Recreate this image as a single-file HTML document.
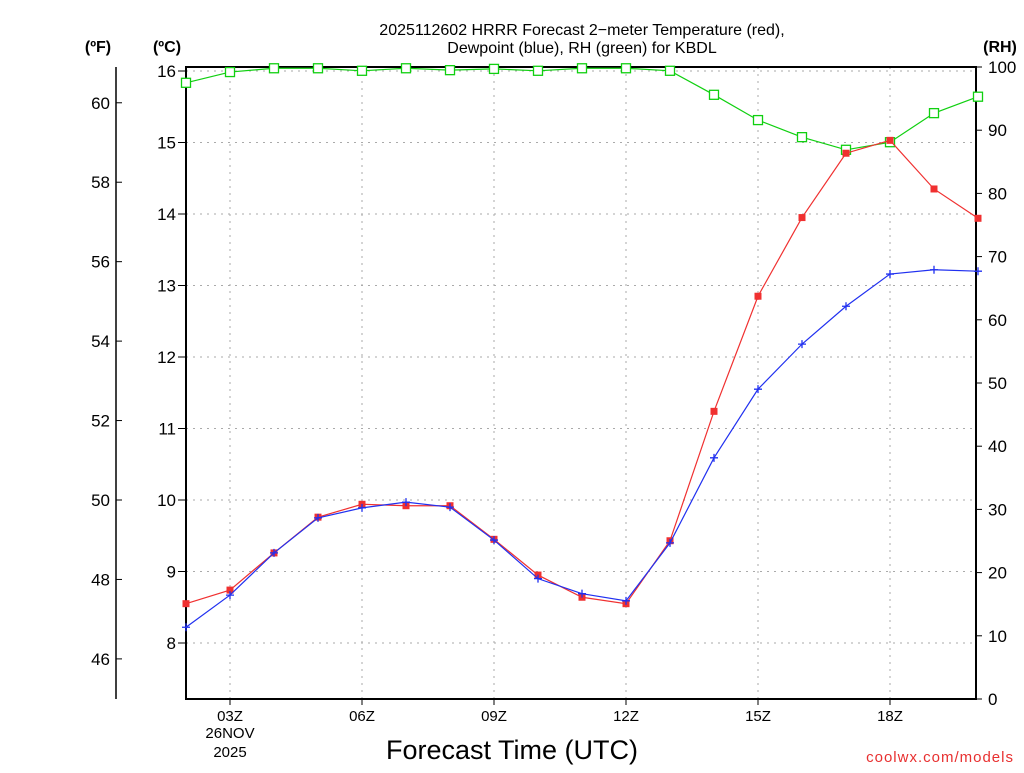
<!DOCTYPE html>
<html><head><meta charset="utf-8"><style>
body{margin:0;background:#fff;}
svg text{font-family:"Liberation Sans",sans-serif;}
</style></head><body>
<svg id="chart" width="1024" height="768" xmlns="http://www.w3.org/2000/svg">
<text x="582" y="35" text-anchor="middle" font-size="16">2025112602 HRRR Forecast 2−meter Temperature (red),</text>
<text x="582" y="53" text-anchor="middle" font-size="16">Dewpoint (blue), RH (green) for KBDL</text>
<text x="98" y="52" text-anchor="middle" font-size="16" font-weight="bold">(ºF)</text>
<text x="167" y="52" text-anchor="middle" font-size="16" font-weight="bold">(ºC)</text>
<text x="1000" y="52" text-anchor="middle" font-size="16" font-weight="bold">(RH)</text>
<text x="512" y="759" text-anchor="middle" font-size="27">Forecast Time (UTC)</text>
<text x="1014" y="762" text-anchor="end" font-size="15" fill="#e83030" letter-spacing="1">coolwx.com/models</text>
<g id="g"></g>
</svg>
<script>
const hours=[2,3,4,5,6,7,8,9,10,11,12,13,14,15,16,17,18,19,20];
const tempC=[8.55,8.74,9.26,9.76,9.94,9.92,9.92,9.45,8.95,8.64,8.55,9.43,11.24,12.85,13.95,14.85,15.03,14.35,13.94];
const dewC=[8.22,8.67,9.26,9.75,9.89,9.97,9.90,9.44,8.90,8.69,8.59,9.40,10.59,11.55,12.18,12.71,13.16,13.22,13.20];
const rh=[97.5,99.2,99.8,99.8,99.4,99.8,99.5,99.7,99.4,99.8,99.8,99.4,95.6,91.6,88.9,86.9,88.1,92.7,95.3];
const cTicks=[8,9,10,11,12,13,14,15,16];
const fTicks=[46,48,50,52,54,56,58,60];
const rhTicks=[0,10,20,30,40,50,60,70,80,90,100];
const xTicks=[3,6,9,12,15,18];
const xLabels=["03Z","06Z","09Z","12Z","15Z","18Z"];
const L=186,R=976,T=67,B=699;
const xS=h=>L+(h-2)*44;
const yC=c=>71+(16-c)*71.5;
const yF=f=>yC((f-32)/1.8);
const yR=r=>B-r*6.32;
const g=document.getElementById('g');
const NS='http://www.w3.org/2000/svg';
function mk(t,a){const e=document.createElementNS(NS,t);for(const k in a)e.setAttribute(k,a[k]);g.appendChild(e);return e;}
// grid
xTicks.forEach((h,i)=>{const l=mk('line',{x1:xS(h),x2:xS(h),y1:T,y2:B,stroke:'#aaa','stroke-dasharray':'2,5'});


mk('line',{x1:xS(h),x2:xS(h),y1:B,y2:B+6,stroke:'#000'});
const t=mk('text',{x:xS(h),y:B+22,'text-anchor':'middle','font-size':'15'});t.textContent=xLabels[i];

});
[["26NOV",738],["2025",757]].forEach(([s,y])=>{const t=mk('text',{x:230,y:y,'text-anchor':'middle','font-size':'15'});t.textContent=s;

});
cTicks.forEach(c=>{const l=mk('line',{x1:L,x2:R,y1:yC(c),y2:yC(c),stroke:'#aaa','stroke-dasharray':'2,5'});


mk('line',{x1:L-8,x2:L,y1:yC(c),y2:yC(c),stroke:'#000'});
const t=mk('text',{x:L-10,y:yC(c)+6,'text-anchor':'end','font-size':'17'});t.textContent=c;

});
mk('line',{x1:116,x2:116,y1:T,y2:B,stroke:'#000','stroke-width':1.5});
fTicks.forEach(f=>{mk('line',{x1:116,x2:122,y1:yF(f),y2:yF(f),stroke:'#000'});
const t=mk('text',{x:110,y:yF(f)+6,'text-anchor':'end','font-size':'17'});t.textContent=f;

});
rhTicks.forEach(r=>{mk('line',{x1:R,x2:R+6,y1:yR(r),y2:yR(r),stroke:'#000'});
const t=mk('text',{x:R+12,y:yR(r)+6,'font-size':'17'});t.textContent=r;

});
const fr=mk('rect',{x:L,y:T,width:R-L,height:B-T,fill:'none',stroke:'#000','stroke-width':2});


function series(vals,yf,col,name,marker){
 const pts=hours.map((h,i)=>xS(h)+','+yf(vals[i])).join(' ');
 const p=mk('polyline',{points:pts,fill:'none',stroke:col,'stroke-width':1.2});
 
 
 hours.forEach((h,i)=>{const x=xS(h),y=yf(vals[i]);let m;
  if(marker==='fill')m=mk('rect',{x:x-3.5,y:y-3.5,width:7,height:7,fill:col});
  else if(marker==='open')m=mk('rect',{x:x-4.5,y:y-4.5,width:9,height:9,fill:'#fff',stroke:col,'stroke-width':1.3});
  else m=mk('path',{d:`M${x-4},${y}H${x+4}M${x},${y-4}V${y+4}`,stroke:col,'stroke-width':1.3});
  
  });
}
series(rh,yR,'#10d010','rh','open');
series(tempC,yC,'#f03030','temperature','fill');
series(dewC,yC,'#2030f0','dewpoint','plus');
</script>
</body></html>
